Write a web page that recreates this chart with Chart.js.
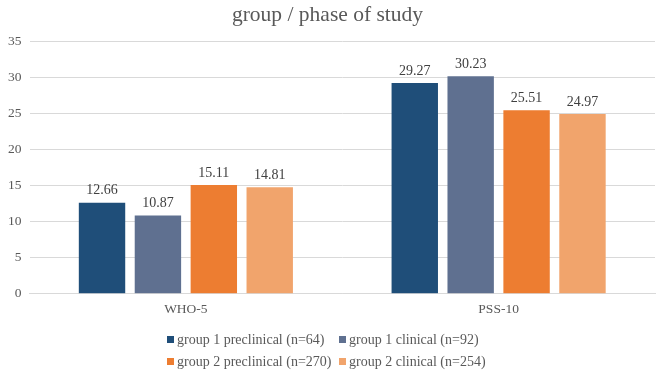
<!DOCTYPE html>
<html>
<head>
<meta charset="utf-8">
<script src="https://cdn.jsdelivr.net/npm/chart.js@4"></script>
<style>
  html, body { margin: 0; padding: 0; background: #fff; }
  #wrap { width: 661px; height: 373px; position: relative; }
</style>
</head>
<body>
<div id="wrap"><canvas id="chart"></canvas></div>
<script>
// 데이터
const categories = ['WHO-5', 'PSS-10'];
const seriesNames = [
  'group 1 preclinical (n=64)',
  'group 1 clinical (n=92)',
  'group 2 preclinical (n=270)',
  'group 2 clinical (n=254)'
];
const g1Preclinical = [12.66, 29.27];
const g1Clinical = [10.87, 30.23];
const g2Preclinical = [15.11, 25.51];
const g2Clinical = [14.81, 24.97];
const seriesColors = ['#1f4e79', '#5f7090', '#ed7d31', '#f1a46c'];

const SERIF = '"Liberation Serif", "Times New Roman", serif';

// 막대 위 값 표시
const valueLabels = {
  id: 'valueLabels',
  afterDatasetsDraw(chart) {
    const ctx = chart.ctx;
    ctx.save();
    ctx.font = '14px ' + SERIF;
    ctx.fillStyle = '#404040';
    ctx.textAlign = 'center';
    ctx.textBaseline = 'bottom';
    chart.data.datasets.forEach((ds, i) => {
      chart.getDatasetMeta(i).data.forEach((bar, j) => {
        ctx.fillText(ds.data[j].toFixed(2), bar.x, bar.y - 5);
      });
    });
    ctx.restore();
  }
};

// 2열 범례
const gridLegend = {
  id: 'gridLegend',
  afterDraw(chart) {
    const ctx = chart.ctx;
    ctx.save();
    ctx.font = '14px ' + SERIF;
    ctx.textBaseline = 'middle';
    const colX = [167, 339];
    const rowY = [340, 362];
    chart.data.datasets.forEach((ds, i) => {
      const x = colX[i % 2];
      const y = rowY[Math.floor(i / 2)];
      ctx.fillStyle = ds.backgroundColor;
      ctx.fillRect(x, y - 4, 7, 7);
      ctx.fillStyle = '#595959';
      ctx.fillText(ds.label, x + 10, y);
    });
    ctx.restore();
  }
};

const seriesData = [g1Preclinical, g1Clinical, g2Preclinical, g2Clinical];

new Chart(document.getElementById('chart'), {
  type: 'bar',
  data: {
    labels: categories,
    datasets: seriesNames.map((name, i) => ({
      label: name,
      data: seriesData[i],
      backgroundColor: seriesColors[i],
      barPercentage: 0.83,
      categoryPercentage: 0.715
    }))
  },
  options: {
    responsive: true,
    maintainAspectRatio: false,
    animation: false,
    layout: { padding: { left: 0, right: 6, top: 0, bottom: 47 } },
    plugins: {
      legend: { display: false },
      tooltip: { enabled: false },
      title: {
        display: true,
        text: 'group / phase of study',
        color: '#595959',
        font: { family: SERIF, size: 21.5, weight: 'normal' },
        padding: { top: 2, bottom: 14 }
      }
    },
    scales: {
      y: {
        min: 0,
        max: 35,
        ticks: {
          stepSize: 5,
          color: '#595959',
          font: { family: SERIF, size: 13.5 },
          padding: 8
        },
        grid: { color: '#d9d9d9', drawTicks: false },
        border: { display: false }
      },
      x: {
        ticks: {
          color: '#595959',
          font: { family: SERIF, size: 13.5 },
          padding: 8
        },
        grid: { display: false, drawTicks: false },
        border: { color: '#d9d9d9' }
      }
    }
  },
  plugins: [valueLabels, gridLegend]
});
</script>
</body>
</html>
